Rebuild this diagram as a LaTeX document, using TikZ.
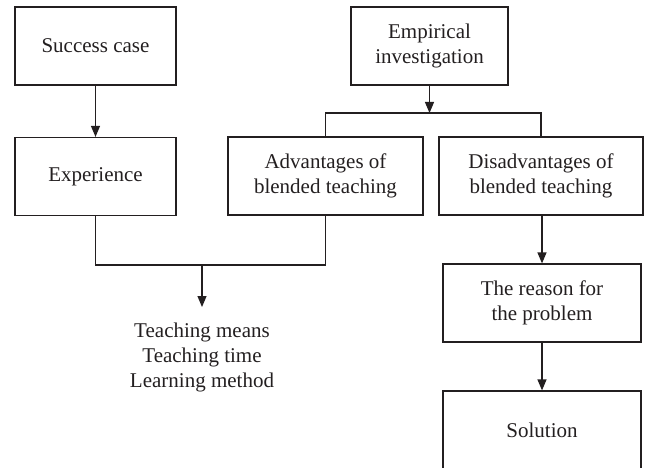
\documentclass[tikz,border=0pt]{standalone}
\usepackage{fontspec}
\setmainfont{Liberation Serif}
\usetikzlibrary{arrows.meta}
\definecolor{ink}{HTML}{231F20}
\begin{document}
\begin{tikzpicture}[x=1pt,y=-1pt,
    every node/.style={text=ink,font=\fontsize{21}{25}\selectfont},
    box/.style={draw=ink,line width=1.2pt,minimum height=78pt,align=center,inner sep=0pt},
    link/.style={draw=ink,line width=1.2pt},
    arr/.style={link,-{Triangle[length=11pt,width=9pt]}}]
  \useasboundingbox (0,0) rectangle (645,468);
  \clip (0,0) rectangle (645,468);
  % boxes
  \node[box,minimum width=161pt] (sc)  at (95.5,46)   {Success case};
  \node[box,minimum width=161pt] (exp) at (95.5,176.5) {Experience};
  \node[box,minimum width=157pt] (emp) at (429.5,46)  {Empirical\\investigation};
  \node[box,minimum width=195pt] (adv) at (325.5,176) {Advantages of\\blended teaching};
  \node[box,minimum width=204pt] (dis) at (541,176)   {Disadvantages of\\blended teaching};
  \node[box,minimum width=198pt] (rsn) at (542,303)   {The reason for\\the problem};
  \node[box,minimum width=198pt] (sol) at (542,430)   {Solution};
  % result list
  \node[align=center,inner sep=0pt] (lst) at (202,357)
    {Teaching means\\Teaching time\\Learning method};
  % junction points
  \coordinate (split) at (429.5,113);
  \coordinate (merge) at (202,265);
  \coordinate (tip)   at (202,307);
  % connectors
  \draw[arr] (sc) -- (exp);
  \draw[arr] (emp) -- (split);
  \draw[link] (adv.north) |- (split) -| (dis.north);
  \draw[link] (exp.south) |- (merge) -| (adv.south);
  \draw[arr] (merge) -- (tip);
  \draw[arr] (dis.south -| rsn.north) -- (rsn);
  \draw[arr] (rsn) -- (sol);
\end{tikzpicture}
\end{document}
